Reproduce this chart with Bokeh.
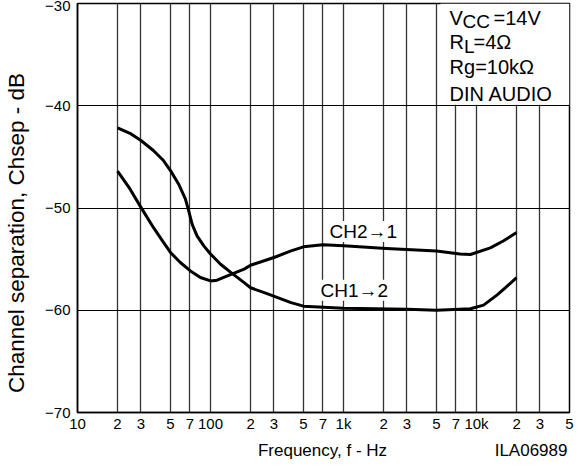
from bokeh.plotting import figure
from bokeh.models import FixedTicker, Label, Div, Range1d, LogAxis
from bokeh.layouts import column
from bokeh.embed import file_html
from bokeh.resources import INLINE

FONT = "Liberation Sans"

# ---- data ----
ch12_freq = [20, 24.8, 30, 37.2, 44.3, 50, 57.5, 64.7, 68.5, 72.7, 79.2, 89, 100, 119, 142,
             179, 200, 269, 403, 500, 1000, 3000, 5000, 9000, 11300, 14300, 17000, 20000]
ch12_db = [-42.16, -42.69, -43.4, -44.38, -45.36, -46.34, -47.65, -49.1, -50.26, -51.57,
           -52.72, -53.7, -54.5, -55.5, -56.3, -57.3, -57.8, -58.4, -59.25, -59.6, -59.8,
           -59.9, -60.0, -59.85, -59.5, -58.5, -57.65, -56.8]

ch21_freq = [20, 24.8, 30, 37.2, 44.3, 50, 59.3, 70.6, 84, 100, 112, 134, 179, 200, 300,
             403, 500, 700, 1000, 2100, 5000, 7500, 9000, 12700, 16000, 20000]
ch21_db = [-46.4, -48.14, -49.94, -51.9, -53.37, -54.35, -55.33, -56.15, -56.8, -57.13,
           -57.06, -56.64, -55.98, -55.6, -54.84, -54.19, -53.8, -53.6, -53.7, -53.95,
           -54.2, -54.5, -54.55, -53.9, -53.2, -52.4]

x_ticks = [10, 20, 30, 50, 70, 100, 200, 300, 500, 700, 1000, 2000, 3000, 5000, 7000,
           10000, 20000, 30000, 50000]
x_tick_labels = ["10", "2", "3", "5", "7", "100", "2", "3", "5", "7", "1k", "2", "3", "5", "7",
                 "10k", "2", "3", "5"]

y_ticks = [-70, -60, -50, -40, -30]
y_tick_labels = ["\u221270", "\u221260", "\u221250", "\u221240", "\u221230"]

x_title = "Frequency, f - Hz"
fig_code = "ILA06989"
y_title = "Channel separation, Chsep - dB"

# anchor frequencies for the bottom texts (x title centred, code right-aligned)
x_title_at = 695
fig_code_at = 25700


def mid_shift(size_px):
    # Label centres the text box on y; shift so that y is the alphabetic baseline
    return 0.3465 * size_px


# ---- figure ----
p = figure(width=580, height=470, x_axis_type="log",
           x_range=Range1d(10, 50000), y_range=Range1d(-70, -30),
           output_backend="svg", toolbar_location=None,
           min_border_left=77, min_border_right=11, min_border_top=3, min_border_bottom=58)
p.background_fill_color = "white"
p.border_fill_color = "white"
p.outline_line_color = "black"
p.outline_line_width = 1.5

xa = p.xaxis[0]
xa.ticker = FixedTicker(ticks=x_ticks)
xa.major_label_overrides = {t: l for t, l in zip(x_ticks, x_tick_labels)}
xa.major_tick_line_color = None
xa.minor_tick_line_color = None
xa.major_tick_out = 0
xa.major_tick_in = 0
xa.minor_tick_out = 0
xa.axis_line_color = "black"
xa.axis_line_width = 1.5
xa.major_label_text_font = FONT
xa.major_label_text_font_size = "15px"
xa.major_label_text_color = "black"
xa.major_label_standoff = 2

# second bottom axis carrying the x title and the figure code on one line
xb = LogAxis(ticker=FixedTicker(ticks=[x_title_at, fig_code_at]),
             major_label_overrides={x_title_at: x_title, fig_code_at: fig_code})
xb.axis_line_color = None
xb.major_tick_line_color = None
xb.minor_tick_line_color = None
xb.major_tick_out = 0
xb.major_tick_in = 0
xb.minor_tick_out = 0
xb.major_label_text_font = FONT
xb.major_label_text_font_size = "17px"
xb.major_label_text_color = "black"
xb.major_label_standoff = 6
p.add_layout(xb, "below")

ya = p.yaxis[0]
ya.ticker = FixedTicker(ticks=y_ticks)
ya.major_label_overrides = {t: l for t, l in zip(y_ticks, y_tick_labels)}
ya.major_tick_line_color = None
ya.minor_tick_line_color = None
ya.major_tick_out = 0
ya.major_tick_in = 0
ya.minor_tick_out = 0
ya.axis_line_color = "black"
ya.axis_line_width = 1.5
ya.major_label_text_font = FONT
ya.major_label_text_font_size = "15px"
ya.major_label_text_color = "black"
ya.major_label_standoff = 7
# trailing no-break spaces shift the centred title down, as in the reference
ya.axis_label = y_title + "\u00a0" * 8
ya.axis_label_text_font = FONT
ya.axis_label_text_font_size = "22.5px"
ya.axis_label_text_font_style = "normal"
ya.axis_label_text_color = "black"
ya.axis_label_standoff = 13

p.xgrid[0].ticker = FixedTicker(ticks=x_ticks)
p.xgrid[0].grid_line_color = "#333333"
p.xgrid[0].grid_line_width = 1.3
p.ygrid[0].ticker = FixedTicker(ticks=y_ticks)
p.ygrid[0].grid_line_color = "black"
p.ygrid[0].grid_line_width = 1.2

# white backdrop for the conditions box (hides grid lines)
box_left, box_right, box_bottom, box_top = 5350, 50000, -39.9, -30
p.quad(left=[box_left], right=[box_right], bottom=[box_bottom], top=[box_top],
       fill_color="white", line_color=None)

# curves
p.line(ch12_freq, ch12_db, line_color="black", line_width=3, line_join="round")
p.line(ch21_freq, ch21_db, line_color="black", line_width=3, line_join="round")

# curve labels
p.add_layout(Label(x=786, y=-52.94, y_offset=mid_shift(19), text="CH2\u21921", text_font=FONT,
                   text_font_size="19px", text_color="black", text_baseline="alphabetic",
                   background_fill_color="white"))
p.add_layout(Label(x=671, y=-58.68, y_offset=mid_shift(19), text="CH1\u21922", text_font=FONT,
                   text_font_size="19px", text_color="black", text_baseline="alphabetic",
                   background_fill_color="white"))

# conditions text
tx = 6270


def lab(text, y, xo=0, yo=0, size=20):
    p.add_layout(Label(x=tx, y=y, x_offset=xo, y_offset=yo + mid_shift(size), text=text,
                       text_font=FONT, text_font_size=f"{size}px", text_color="black",
                       text_baseline="alphabetic"))


lab("V", -32.06)
lab("CC", -32.06, xo=13, yo=-3.5, size=19)
lab("=14V", -32.06, xo=44)
lab("R", -34.41)
lab("L", -34.41, xo=14.5, yo=-4, size=19)
lab("=4\u03a9", -34.41, xo=24)
lab("Rg=10k\u03a9", -36.86)
lab("DIN AUDIO", -39.51)

rule = Div(text="", width=580, height=1, styles={"background-color": "#a0a0a0"})
layout = column(p, rule, spacing=0)

open("out.html", "w").write(file_html(layout, INLINE))
